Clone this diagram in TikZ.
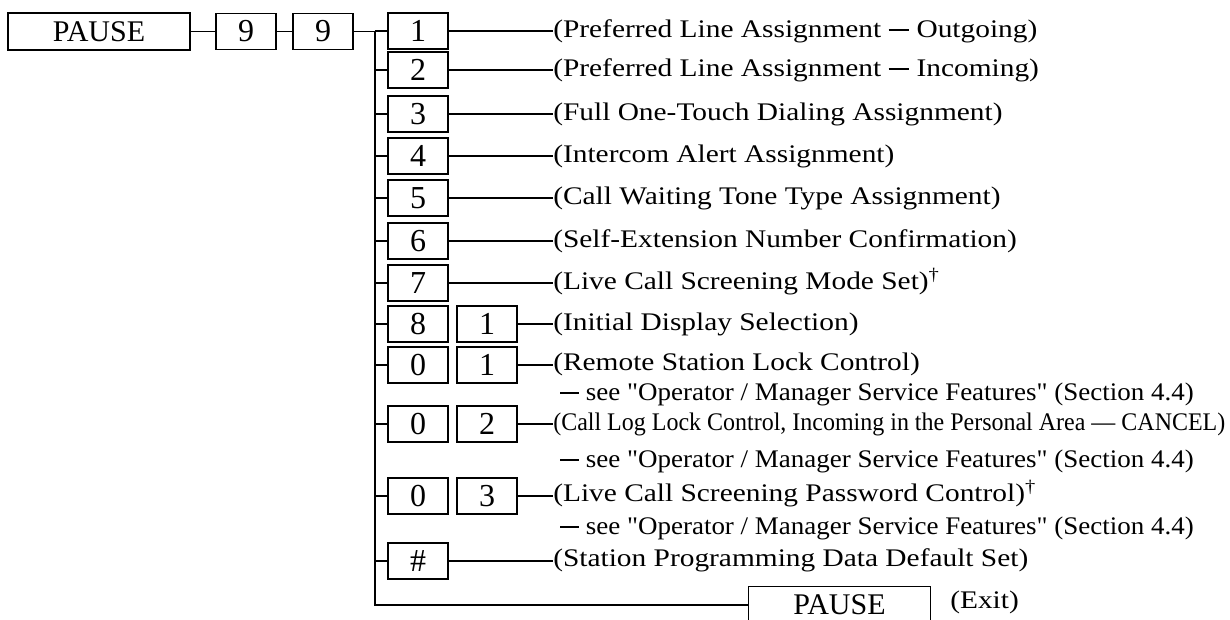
\documentclass[tikz,border=0pt]{standalone}
\usepackage{fontspec}
\setmainfont{Liberation Serif}
\usetikzlibrary{positioning}

\newcommand{\wtext}[1]{\scalebox{1.16}[1]{#1}}
\newcommand{\sdash}{\rule[0.24em]{0.7em}{0.06em}}
\newcommand{\seesec}{\scalebox{1.065}[1]{\sdash{} see \textquotedbl Operator / Manager Service Features\textquotedbl{} (Section 4.4)}}

\tikzset{
  keybox/.style={draw, line width=1pt, minimum width=45pt, minimum height=27pt, inner sep=0pt, font=\fontsize{24}{24}\selectfont},
  pausebox/.style={draw, line width=1pt, minimum width=136.5pt, minimum height=27.75pt, inner sep=0pt, font=\fontsize{22.5}{24}\selectfont},
  desc/.style={anchor=base west, inner sep=0pt, font=\fontsize{19}{22}\selectfont},
  wire/.style={line width=1pt},
}

\begin{document}
\begin{tikzpicture}[x=0.75pt,y=0.75pt,yscale=-1,xscale=1]
	\useasboundingbox (0,0) rectangle (1230,619);

	% top row
	\node[pausebox] (pause) at (99,31.5) {PAUSE};
	\node[keybox] (nineA) at (246,31.5) {9};
	\node[keybox] (nineB) at (323,31.5) {9};
	\coordinate (trunk) at (375,31.5);

	% first keys
	\node[keybox] (a1) at (418,31) {1};
	\node[keybox] (a2) at (418,70) {2};
	\node[keybox] (a3) at (418,114) {3};
	\node[keybox] (a4) at (418,156) {4};
	\node[keybox] (a5) at (418,198) {5};
	\node[keybox] (a6) at (418,241) {6};
	\node[keybox] (a7) at (418,283) {7};
	\node[keybox] (a8) at (418,324) {8};
	\node[keybox] (a9) at (418,365) {0};
	\node[keybox] (a10) at (418,424) {0};
	\node[keybox] (a11) at (418,496) {0};
	\node[keybox] (a12) at (418,561) {\#};
	% second keys
	\node[keybox] (b8) at (487,324) {1};
	\node[keybox] (b9) at (487,365) {1};
	\node[keybox] (b10) at (487,424) {2};
	\node[keybox] (b11) at (487,496) {3};

	% exit
	\node[pausebox] (pauseB) at (839.5,605) {PAUSE};
	\node[desc] (exit) at (950,608) {\wtext{(Exit)}};

	% Text Node
	\node[desc] (d1) at (553,37) {\wtext{(Preferred Line Assignment \sdash{} Outgoing)}};
	\node[desc] (d2) at (553,76) {\wtext{(Preferred Line Assignment \sdash{} Incoming)}};
	\node[desc] (d3) at (553,120) {\wtext{(Full One-Touch Dialing Assignment)}};
	\node[desc] (d4) at (553,162) {\wtext{(Intercom Alert Assignment)}};
	\node[desc] (d5) at (553,204) {\wtext{(Call Waiting Tone Type Assignment)}};
	\node[desc] (d6) at (553,247) {\wtext{(Self-Extension Number Confirmation)}};
	\node[desc] (d7) at (553,289) {\wtext{(Live Call Screening Mode Set)\textsuperscript{\dag}}};
	\node[desc] (d8) at (553,330) {\wtext{(Initial Display Selection)}};
	\node[desc] (d9) at (553,370) {\wtext{(Remote Station Lock Control)}};
	\node[desc] (s9) at (560,400) {\seesec};
	\node[desc] (d10) at (553,430) {\resizebox{504pt}{\height}{(Call Log Lock Control, Incoming in the Personal Area --- CANCEL)}};
	\node[desc] (s10) at (560,467) {\seesec};
	\node[desc] (d11) at (553,501) {\wtext{(Live Call Screening Password Control)\textsuperscript{\dag}}};
	\node[desc] (s11) at (560,534) {\seesec};
	\node[desc] (d12) at (553,566) {\wtext{(Station Programming Data Default Set)}};

	% connectors
	\draw[wire] (pause) -- (nineA);
	\draw[wire] (nineA) -- (nineB);
	\draw[wire] (nineB) -- (trunk);
	\draw[wire] (trunk) |- (pauseB);
	\foreach \i in {1,...,12}
		\draw[wire] (a\i.west -| trunk) -- (a\i.west);
	\foreach \i in {1,...,7,12}
		\draw[wire] (a\i.east) -- (a\i.east -| d\i.west);
	\foreach \i in {8,...,11}
		\draw[wire] (b\i.east) -- (b\i.east -| d\i.west);
\end{tikzpicture}
\end{document}
